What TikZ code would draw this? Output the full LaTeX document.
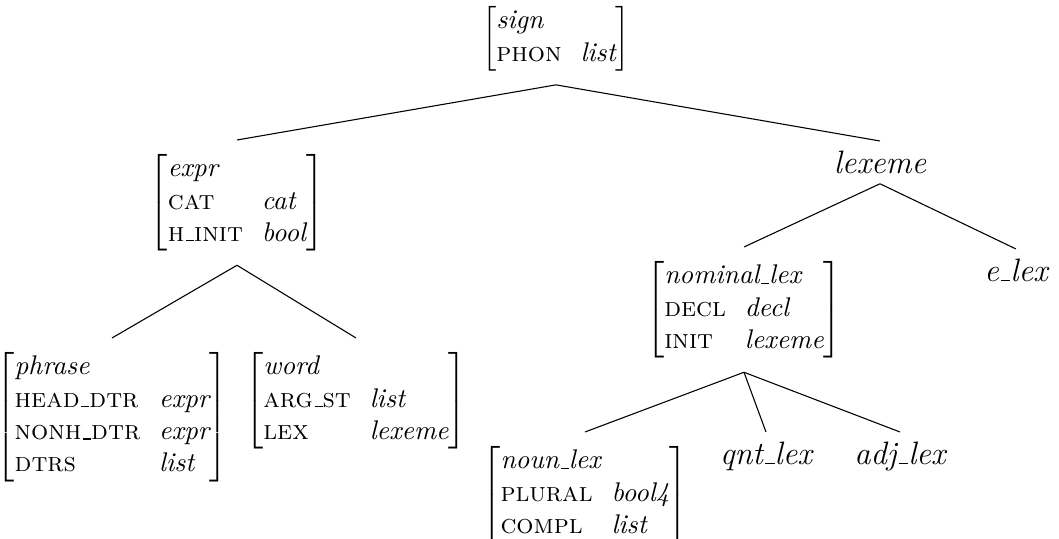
\documentclass[tikz,border=0pt]{standalone}
\usepackage{tikz}

\newcommand{\us}{\leavevmode\kern.06em\vbox{\hrule width.3em}}
\newcommand{\feat}[1]{\textsc{#1}}
\newcommand{\typ}[1]{\textit{#1}}
\newcommand{\featstr}[2]{$\left[\begin{array}{@{}l@{\hspace{7pt}}l@{}}
  \multicolumn{2}{@{}l@{}}{\typ{#1}}\\ #2
  \end{array}\right]$}

\begin{document}
\begin{tikzpicture}[
x=0.3704pt,y=-0.3704pt,
avm/.style={
  inner sep=5pt,
  anchor=north
},
leaf/.style={
  inner sep=3.5pt,
  font=\large\itshape,
  anchor=north
}
]
\useasboundingbox (0,0) rectangle (1059,539);

\node[avm] at (556,-8) (sign)
  {\featstr{sign}{\feat{phon} & \typ{list}}};
\node[avm] at (237,140) (expr)
  {\featstr{expr}{\feat{cat} & \typ{cat}\\ \feat{h\us init} & \typ{bool}}};
\node[leaf] at (880,141) (lexeme) {lexeme};

\node[avm] at (112,338) (phrase)
  {\featstr{phrase}{\feat{head\us dtr} & \typ{expr}\\ \feat{nonh\us dtr} & \typ{expr}\\ \feat{dtrs} & \typ{list}}};
\node[avm] at (356,338) (word)
  {\featstr{word}{\feat{arg\us st} & \typ{list}\\ \feat{lex} & \typ{lexeme}}};

\node[avm] at (744,247) (nominal)
  {\featstr{nominal\us lex}{\feat{decl} & \typ{decl}\\ \feat{init} & \typ{lexeme}}};
\node[leaf] at (1016,249) (elex) {e\us lex};

\node[avm] at (585,432) (noun)
  {\featstr{noun\us lex}{\feat{plural} & \typ{bool4}\\ \feat{compl} & \typ{list}}};
\node[leaf] at (766,432) (qnt) {qnt\us lex};
\node[leaf] at (900,432) (adj) {adj\us lex};

\draw (sign.south) -- (expr.north);
\draw (sign.south) -- (lexeme.north);
\draw (expr.south) -- (phrase.north);
\draw (expr.south) -- (word.north);
\draw (lexeme.south) -- (nominal.north);
\draw (lexeme.south) -- (elex.north);
\draw (nominal.south) -- (noun.north);
\draw (nominal.south) -- (qnt.north);
\draw (nominal.south) -- (adj.north);
\end{tikzpicture}
\end{document}
